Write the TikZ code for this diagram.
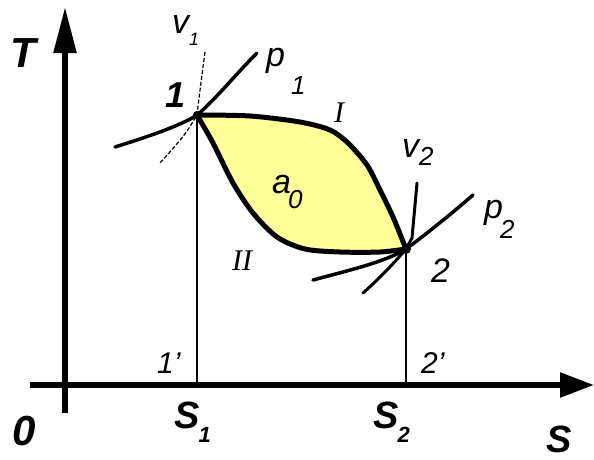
\documentclass[tikz,border=0pt]{standalone}
\usepackage{fontspec}
\setmainfont{Liberation Sans}
\newfontfamily\serifit{Liberation Serif}
\usetikzlibrary{arrows.meta}
\definecolor{fillyellow}{RGB}{255,255,153}
\newcommand\lsub[3][22]{\raisebox{-#2pt}{\fontsize{#1}{#1}\selectfont #3}}
\begin{document}
\begin{tikzpicture}[x=1pt,y=-1pt,
  axis/.style={line width=5.5pt},
  curve/.style={line width=5pt,line join=round},
  isoline/.style={line width=3.5pt,line cap=round},
  thin/.style={line width=1.4pt},
  lbl/.style={inner sep=0pt,anchor=base west,font=\itshape\fontsize{34}{34}\selectfont},
  blbl/.style={inner sep=0pt,anchor=base west,font=\bfseries\itshape\fontsize{38}{38}\selectfont}]
\useasboundingbox (0,0) rectangle (594,459);
% key points
\coordinate (P1) at (197,115);
\coordinate (P2) at (406,249);
\coordinate (O) at (65,385);
\coordinate (Tb) at (65,413);
\coordinate (Tt) at (65,7);
\coordinate (Sl) at (30,385);
\coordinate (Sr) at (594,385);
% area
\fill[fillyellow] plot[smooth] coordinates {(197,115) (250,116) (300,122) (330,130) (348,143) (367,165) (380,190) (393,217) (406,249)}
  -- plot[smooth] coordinates {(406,249) (380,252) (340,252) (305,249) (277,237) (253,213) (233,183) (213,143) (197,115)} -- cycle;
% thin verticals
\draw[thin] (P1) -- (P1 |- O);
\draw[thin] (P2) -- (P2 |- O);
% axes
\draw[axis,-{Triangle[length=46pt,width=22pt]}] (Tb) -- (Tt);
\draw[axis,-{Triangle[length=34pt,width=24pt]}] (Sl) -- (Sr);
% curves I and II
\draw[curve] plot[smooth] coordinates {(197,115) (250,116) (300,122) (330,130) (348,143) (367,165) (380,190) (393,217) (406,249)};
\draw[curve] plot[smooth] coordinates {(197,115) (213,143) (233,183) (253,213) (277,237) (305,249) (340,252) (380,252) (406,249)};
% isolines at 1
\coordinate (p1a) at (115,147);
\coordinate (p1b) at (257,53);
\coordinate (v1a) at (205,52);
\coordinate (v1b) at (160,163);
\draw[isoline] (p1a) .. controls (160,133) and (185,123) .. (P1) .. controls (215,100) and (235,75) .. (p1b);
\draw[line width=1.2pt,dash pattern=on 4pt off 2pt] (v1a) .. controls (200,90) .. (P1) .. controls (185,135) .. (v1b);
% isolines at 2
\coordinate (p2a) at (313,280);
\coordinate (p2b) at (473,195);
\coordinate (v2a) at (417,183);
\coordinate (v2b) at (363,293);
\draw[isoline] (p2a) .. controls (350,270) and (385,262) .. (P2) .. controls (425,235) and (450,215) .. (p2b);
\draw[isoline,line width=3pt] (v2a) -- (412,238) -- (P2) .. controls (395,262) and (380,278) .. (v2b);
\fill (P1) circle (4pt);
\fill (P2) circle (5pt);
% labels
\node[blbl,font=\bfseries\itshape\fontsize{42}{42}\selectfont] (lT) at (10,67) {T};
\node[blbl,font=\bfseries\itshape\fontsize{42}{42}\selectfont] (l0) at (12,445) {0};
\node[blbl] (lS) at (546,452) {S};
\node[blbl] (lS1) at (174,428) {S\hspace{-1pt}\lsub{14}{1}};
\node[blbl] (lS2) at (373,428) {S\hspace{-1pt}\lsub{14}{2}};
\node[blbl,font=\bfseries\itshape\fontsize{36}{36}\selectfont] (l1) at (165,107) {1};
\node[lbl] (lv1) at (172,33) {v\lsub[18]{12}{1}};
\node[lbl] (lp1) at (266,66) {p\hspace{6pt}\lsub[26]{28}{1}};
\node[lbl,font=\serifit\itshape\fontsize{30}{30}\selectfont] (lI) at (334,122) {I};
\node[lbl] (la0) at (272,193) {a\hspace{-3pt}\lsub[26]{15}{0}};
\node[lbl,font=\serifit\itshape\fontsize{30}{30}\selectfont] (lII) at (232,270) {II};
\node[lbl] (lv2) at (402,157) {v\lsub[26]{8}{2}};
\node[lbl] (lp2) at (484,218) {p\hspace{-3pt}\lsub[26]{20}{2}};
\node[lbl] (l2) at (431,282) {2};
\node[lbl,font=\itshape\fontsize{30}{30}\selectfont] (l1p) at (157,373) {1'};
\node[lbl,font=\itshape\fontsize{30}{30}\selectfont] (l2p) at (421,373) {2'};
\end{tikzpicture}
\end{document}
